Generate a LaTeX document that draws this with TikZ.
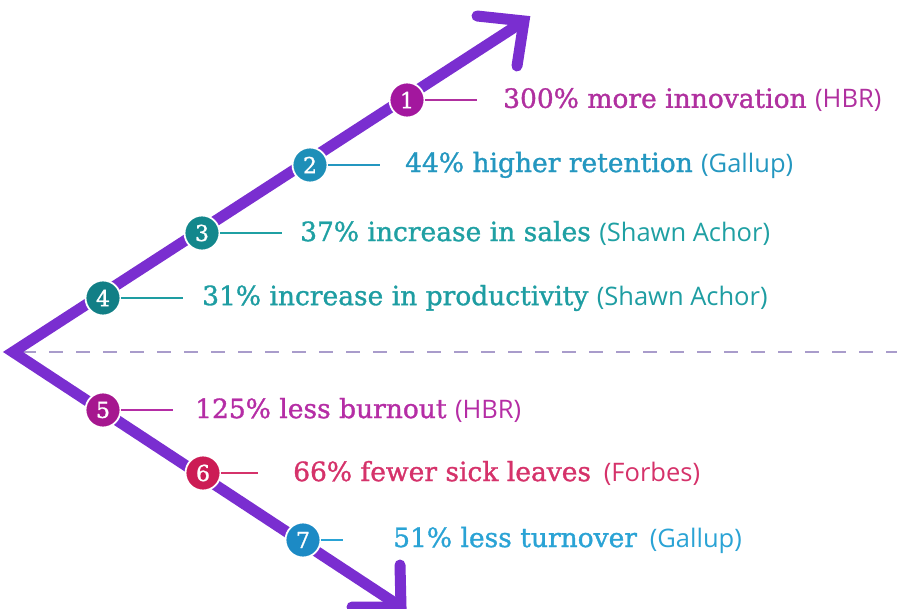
\documentclass[tikz,border=0pt]{standalone}
\usepackage{fontspec}
\setmainfont{DejaVu Serif}[FakeBold=1.2]
\newfontfamily\srcfont{Open Sans}
\newcommand\srcsz{\srcfont\fontsize{25.5}{25.5}\selectfont}
\begin{document}
\begin{tikzpicture}[x=1pt,y=-1pt,
  arrowline/.style={draw=arrowc,line width=11pt},
  numdot/.style={circle,minimum size=35pt,inner sep=0pt,draw=white,line width=1.8pt,text=white,font=\fontsize{22}{22}\selectfont},
  leader/.style={line width=1.4pt},
  stat/.style={anchor=west,inner sep=0pt,font=\fontsize{26.5}{26.5}\selectfont}]
\definecolor{arrowc}{HTML}{7A2ED0}
\definecolor{dashc}{HTML}{A99CCB}
\definecolor{cA}{HTML}{A3179E}\definecolor{tA}{HTML}{B0309F}
\definecolor{cB}{HTML}{1E8FB8}\definecolor{tB}{HTML}{2497C0}
\definecolor{cC}{HTML}{13878C}\definecolor{tC}{HTML}{1FA0A3}
\definecolor{cD}{HTML}{127F86}\definecolor{tD}{HTML}{1E9DA2}
\definecolor{cE}{HTML}{A6178F}\definecolor{tE}{HTML}{B52DA5}
\definecolor{cF}{HTML}{CC1C55}\definecolor{tF}{HTML}{D5326A}
\definecolor{cG}{HTML}{1C8AC5}\definecolor{tG}{HTML}{2AA3D5}
\useasboundingbox (0,0) rectangle (897,609);
\coordinate (v) at (13,352);
\coordinate (tipU) at (524,21);
\coordinate (tipD) at (401,607);
\coordinate (dashend) at (897,352);
\draw[dashc,line width=2.5pt,dash pattern=on 14pt off 13pt] (22,352) -- (dashend);
\draw[arrowline,line join=miter] (tipU) -- (v) -- (tipD);
\draw[arrowline,line cap=round,line join=miter] (477,16) -- (tipU) -- (517,66);
\draw[arrowline,line cap=round,line join=miter] (400,565) -- (tipD) -- (352,607);
% markers
\node[numdot,fill=cA] (n1) at (407,100) {1};
\node[numdot,fill=cB] (n2) at (310,165) {2};
\node[numdot,fill=cC] (n3) at (202,233) {3};
\node[numdot,fill=cD] (n4) at (103,298) {4};
\node[numdot,fill=cE] (n5) at (103,410) {5};
\node[numdot,fill=cF] (n6) at (203,473) {6};
\node[numdot,fill=cG] (n7) at (303,540) {7};
% texts
\node[stat,text=tA] (t1) at (503,100) {300\% more innovation {\srcsz (HBR)}};
\node[stat,text=tB] (t2) at (405,165) {44\% higher retention {\srcsz (Gallup)}};
\node[stat,text=tC] (t3) at (300,233) {37\% increase in sales {\srcsz (Shawn Achor)}};
\node[stat,text=tD] (t4) at (202,298) {31\% increase in productivity {\srcsz (Shawn Achor)}};
\node[stat,text=tE] (t5) at (195,410) {125\% less burnout {\srcsz (HBR)}};
\node[stat,text=tF] (t6) at (293,473) {66\% fewer sick leaves\ \,{\srcsz (Forbes)}};
\node[stat,text=tG] (t7) at (393,540) {51\% less turnover\ \,{\srcsz (Gallup)}};
% leaders
\coordinate (e1) at (477,100);
\coordinate (e2) at (380,165);
\coordinate (e3) at (282,233);
\coordinate (e4) at (183,298);
\coordinate (e5) at (173,410);
\coordinate (e6) at (258,473);
\coordinate (e7) at (343,540);
\draw[leader,tA] (n1.east) -- (e1);
\draw[leader,tB] (n2.east) -- (e2);
\draw[leader,tC] (n3.east) -- (e3);
\draw[leader,tD] (n4.east) -- (e4);
\draw[leader,tE] (n5.east) -- (e5);
\draw[leader,tF] (n6.east) -- (e6);
\draw[leader,tG] (n7.east) -- (e7);
\end{tikzpicture}
\end{document}
